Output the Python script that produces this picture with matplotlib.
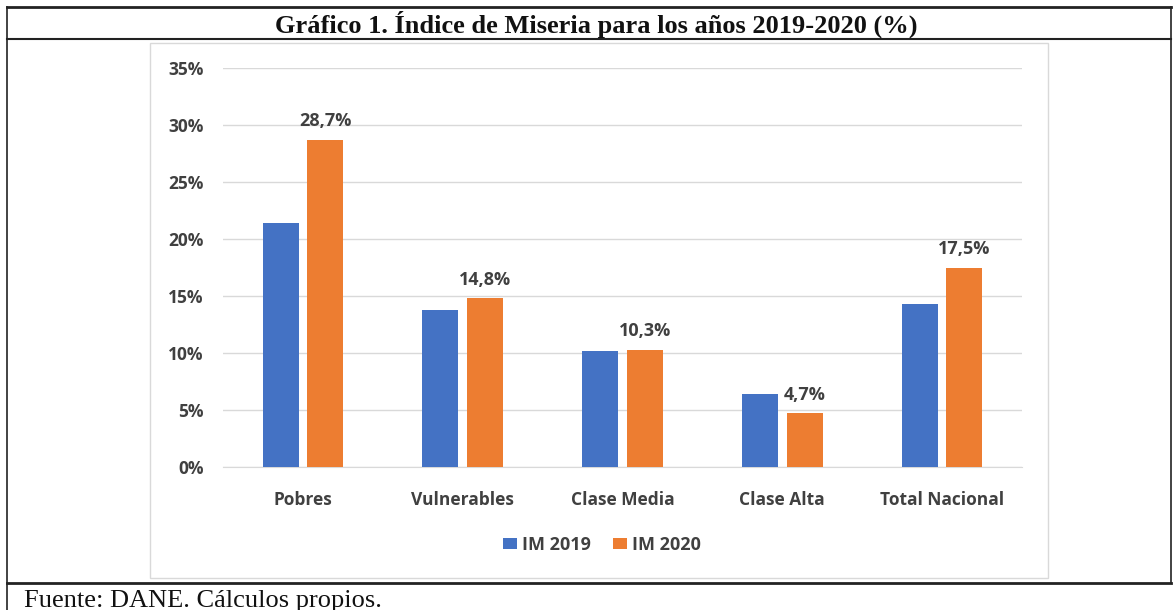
#!/usr/bin/env python3

import matplotlib.pyplot as plt
import numpy as np
from matplotlib.lines import Line2D
from matplotlib.patches import Rectangle

# datos del grafico
categorias = ['Pobres', 'Vulnerables', 'Clase Media', 'Clase Alta', 'Total Nacional']
im_2019 = [21.4, 13.8, 10.2, 6.4, 14.3]
im_2020 = [28.7, 14.8, 10.3, 4.7, 17.5]
etiquetas_2020 = ['28,7%', '14,8%', '10,3%', '4,7%', '17,5%']
yticks = [0, 5, 10, 15, 20, 25, 30, 35]

AZUL = '#4472C4'
NARANJA = '#ED7D31'
TEXTO = '#404040'
FUENTE = 'Open Sans'
TAM = 12.5

fig = plt.figure(figsize=(11.76, 6.10), dpi=100)
W, H = 1176, 610

def fx(px):
    return px / W

def fy(py):
    return 1 - py / H

# bordes de la tabla
for (x0, y0, x1, y1, lw) in [
    (7, 7, 1171, 7, 2.0),
    (7, 39, 1171, 39, 1.5),
    (7, 583, 1171, 583, 2.0),
    (7, 7, 7, 610, 1.2),
    (1171, 7, 1171, 583, 1.2),
]:
    fig.add_artist(Line2D([fx(x0), fx(x1)], [fy(y0), fy(y1)], color='#222222', lw=lw))

# marco gris del area del grafico
fig.add_artist(Rectangle((fx(150), fy(578)), fx(1048) - fx(150), fy(43) - fy(578),
                         fill=False, edgecolor='#D9D9D9', lw=1.0))

fig.text(fx(596), fy(24), 'Gráfico 1. Índice de Miseria para los años 2019-2020 (%)',
         ha='center', va='center', fontsize=19, fontweight='bold',
         family='Liberation Serif', color='#111111')
fig.text(fx(24), fy(607), 'Fuente: DANE. Cálculos propios.',
         ha='left', va='baseline', fontsize=19, family='Liberation Serif', color='#111111')

ax = fig.add_axes([fx(223), fy(467), fx(1022) - fx(223), fy(68) - fy(467)])

x = np.arange(len(categorias))
ancho = 0.225
desp = 0.14
ax.bar(x - desp, im_2019, ancho, color=AZUL, label='IM 2019', zorder=3)
b2020 = ax.bar(x + desp, im_2020, ancho, color=NARANJA, label='IM 2020', zorder=3)

for rect, txt in zip(b2020, etiquetas_2020):
    ax.annotate(txt, (rect.get_x() + rect.get_width() / 2, rect.get_height()),
                xytext=(0, 7), textcoords='offset points', ha='center', va='bottom',
                fontsize=13, fontweight='bold', family=FUENTE, color=TEXTO)

ax.set_xlim(-0.5, len(categorias) - 0.5)
ax.set_ylim(0, 35)
ax.set_yticks(yticks)
ax.set_yticklabels([f'{v}%' for v in yticks])
ax.set_xticks(x)
ax.set_xticklabels(categorias)
ax.grid(axis='y', color='#D9D9D9', lw=1.0, zorder=0)
for s in ['top', 'right', 'left']:
    ax.spines[s].set_visible(False)
ax.spines['bottom'].set_color('#D9D9D9')
ax.tick_params(axis='both', length=0, colors=TEXTO, labelsize=TAM)
ax.tick_params(axis='y', pad=14)
ax.tick_params(axis='x', pad=17)
for lab in ax.get_xticklabels() + ax.get_yticklabels():
    lab.set_fontweight('bold')
    lab.set_family(FUENTE)

leg = fig.legend(loc='center', bbox_to_anchor=(fx(602), fy(545)), ncol=2, frameon=False,
                 handlelength=0.75, handleheight=0.55, handletextpad=0.28, columnspacing=1.25,
                 prop={'family': FUENTE, 'weight': 'bold', 'size': 13})
for t in leg.get_texts():
    t.set_color(TEXTO)

fig.savefig('out.png', dpi=100)
